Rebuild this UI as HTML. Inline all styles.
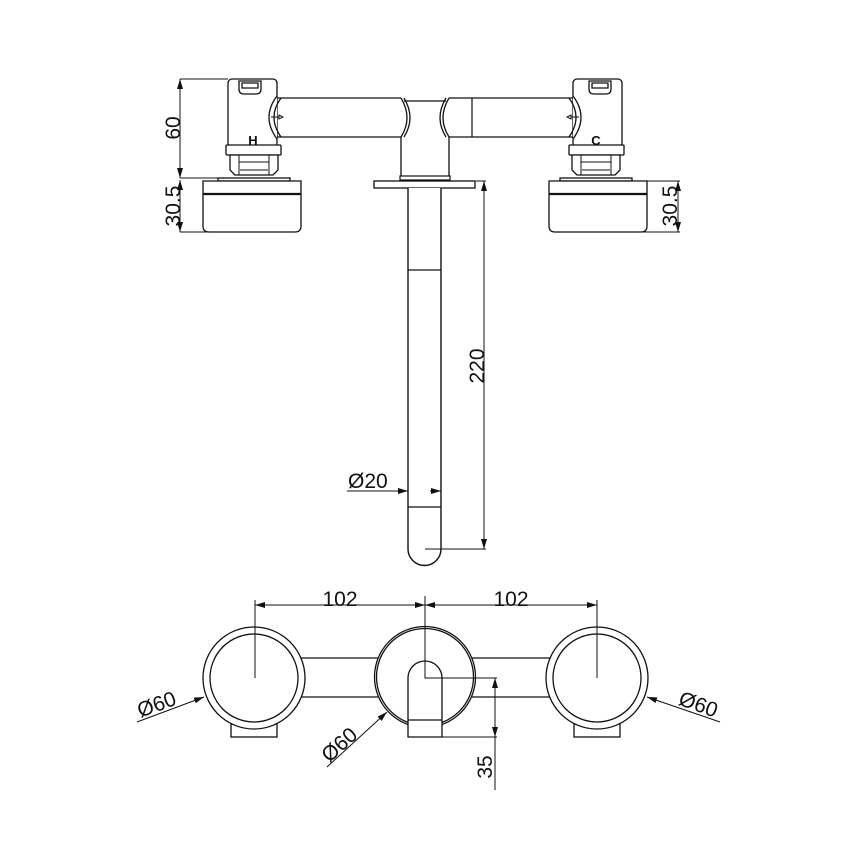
<!DOCTYPE html>
<html><head><style>body{margin:0;background:#fff}svg{display:block}text{font-family:"Liberation Sans",sans-serif;fill:#111}</style></head>
<body>
<svg width="860" height="860" viewBox="0 0 860 860" xmlns="http://www.w3.org/2000/svg">
<defs>
<marker id="a" viewBox="0 0 10 6" refX="10" refY="3" markerWidth="10" markerHeight="6" orient="auto-start-reverse" markerUnits="userSpaceOnUse"><path d="M0,0L10,3L0,6z" fill="#111"/></marker>
<g id="valve" fill="#fff" stroke="#111" stroke-width="1.3">
<rect x="228" y="79" width="49" height="68" rx="4"/>
<path d="M239,81 h22 v8 q0,5 -5,5 h-12 q-5,0 -5,-5z"/>
<path d="M242,83 h16 v5 h-16z" fill="none"/>
<path d="M277,96 q-16,21 0,43" fill="#fff"/>
<path d="M281,98 q-14,19 0,39" fill="none"/>
<path d="M271,117 h8 M279,115 l4,2 -4,2z" fill="none" stroke-width="1"/>
<rect x="226" y="145" width="55" height="10" rx="1"/>
<path d="M230,155 h48 v15 l-5,5 h-38 l-5,-5z"/>
<path d="M239,162 h30 M240,170 h28 M239,155 v20 M269,155 v20" fill="none" stroke-width="1"/>
<rect x="218" y="178" width="72" height="3"/>
<path d="M203,181 h98 v45 q0,6 -6,6 h-86 q-6,0 -6,-6z"/>
<line x1="203" y1="194" x2="301" y2="194" stroke-width="2.2"/>
</g>
</defs>
<!-- top view -->
<path d="M277,98 H401 M277,137 H401 M449,98 H573 M449,137 H573" stroke="#111" stroke-width="1.3" fill="none"/>
<line x1="472" y1="98" x2="472" y2="137" stroke="#111" stroke-width="1.2"/>
<path d="M401,98 q12,20 0,39 V179 M449,98 q-12,20 0,39 V179 M404,98 q12,20 0,39 M446,98 q-12,20 0,39 M404,101 H446" stroke="#111" stroke-width="1.3" fill="none"/>
<rect x="400" y="176" width="50" height="4" fill="#fff" stroke="#111" stroke-width="1.2"/>
<rect x="374" y="181" width="101" height="7" fill="#fff" stroke="#111" stroke-width="1.3"/>
<path d="M408,188 V549 a16.5,16.5 0 0 0 33,0 V188" fill="#fff" stroke="#111" stroke-width="1.4"/>
<path d="M408,270 H441 M408,507 H441" stroke="#111" stroke-width="1.2"/>
<use href="#valve"/>
<use href="#valve" transform="translate(850,0) scale(-1,1)"/>
<text x="253" y="145" font-size="13" font-weight="bold" text-anchor="middle">H</text>
<text x="596" y="145" font-size="13" font-weight="bold" text-anchor="middle">C</text>
<!-- dims top -->
<g stroke="#111" stroke-width="1" fill="none">
<path d="M180,79 H228 M180,178 H218 M180,232 H210 M640,232 H680 M640,181 H680 M476,181 H486 M425,549 H486"/>
<line x1="180" y1="79" x2="180" y2="178" marker-start="url(#a)" marker-end="url(#a)"/>
<line x1="180" y1="180" x2="180" y2="232" marker-start="url(#a)" marker-end="url(#a)"/>
<line x1="678" y1="181" x2="678" y2="232" marker-start="url(#a)" marker-end="url(#a)"/>
<line x1="484" y1="181" x2="484" y2="549" marker-start="url(#a)" marker-end="url(#a)"/>
<line x1="347" y1="491" x2="408" y2="491" marker-end="url(#a)"/>
<line x1="430" y1="491" x2="441" y2="491" marker-end="url(#a)"/>
</g>
<text font-size="21" transform="translate(180,128) rotate(-90)" text-anchor="middle">60</text>
<text font-size="21" transform="translate(180,206) rotate(-90)" text-anchor="middle">30.5</text>
<text font-size="21" transform="translate(677,206) rotate(-90)" text-anchor="middle">30.5</text>
<text font-size="21" transform="translate(484,366) rotate(-90)" text-anchor="middle">220</text>
<text x="348" y="488" font-size="21">Ø20</text>
<!-- bottom view -->
<g stroke="#111" stroke-width="1.3" fill="#fff">
<path d="M300,658 H378 M300,697 H378 M472,658 H552 M472,697 H552" fill="none"/>
<rect x="231" y="724" width="46" height="13"/>
<rect x="574" y="724" width="46" height="13"/>
<circle cx="254" cy="678" r="51"/><circle cx="254" cy="678" r="44" fill="none"/>
<circle cx="597" cy="678" r="51"/><circle cx="597" cy="678" r="44" fill="none"/>
<circle cx="425" cy="677" r="50.5"/><circle cx="425" cy="677" r="48.5" fill="none"/>
<path d="M408,737 V678 a17,17 0 0 1 34,0 V737z"/>
<line x1="408" y1="720" x2="442" y2="720"/>
</g>
<g stroke="#111" stroke-width="1" fill="none">
<path d="M255,600 V678 M425,596 V678 H497 M597,600 V678 M442,737 H497"/>
<line x1="255" y1="605" x2="425" y2="605" marker-start="url(#a)" marker-end="url(#a)"/>
<line x1="425" y1="605" x2="597" y2="605" marker-start="url(#a)" marker-end="url(#a)"/>
<line x1="495" y1="678" x2="495" y2="737" marker-start="url(#a)" marker-end="url(#a)"/>
<line x1="495" y1="737" x2="495" y2="790"/>
<line x1="137" y1="722" x2="204" y2="697" marker-end="url(#a)"/>
<line x1="720" y1="722" x2="647" y2="697" marker-end="url(#a)"/>
<line x1="327" y1="767" x2="387" y2="712" marker-end="url(#a)"/>
</g>
<text x="340" y="606" font-size="21" text-anchor="middle">102</text>
<text x="511" y="606" font-size="21" text-anchor="middle">102</text>
<text font-size="21" transform="translate(159,711) rotate(-20)" text-anchor="middle">Ø60</text>
<text font-size="21" transform="translate(696,711) rotate(20)" text-anchor="middle">Ø60</text>
<text font-size="21" transform="translate(344,750) rotate(-42)" text-anchor="middle">Ø60</text>
<text font-size="21" transform="translate(492,767) rotate(-90)" text-anchor="middle">35</text>
</svg>
</body></html>
